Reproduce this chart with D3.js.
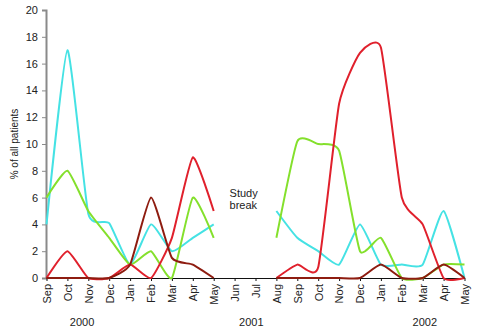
<!DOCTYPE html>
<html>
<head>
<meta charset="utf-8">
<script src="https://cdn.jsdelivr.net/npm/d3@7"></script>
<style>
    body { margin: 0; background: #fff; }
    text { font-family: "Liberation Sans", Arial, sans-serif; fill: #222; }
</style>
</head>
<body>
<div id="chart"></div>
<script>

// month categories (Sep 2000 .. May 2002, Jun/Jul 2001 = study break)
const months = ["Sep", "Oct", "Nov", "Dec", "Jan", "Feb", "Mar", "Apr", "May", "Jun", "Jul",
    "Aug", "Sep", "Oct", "Nov", "Dec", "Jan", "Feb", "Mar", "Apr", "May"];

// year labels and the month index they sit under
const years = ["2000", "2001", "2002"];
const yearPos = [1.7, 9.8, 18.1];

const yTicks = [0, 2, 4, 6, 8, 10, 12, 14, 16, 18, 20];

// series values, % of all patients (null = no data)
const cyanValues = [4, 17, 4.8, 4.1, 1, 4, 2, 3, 4, null, null, 5, 3, 2, 1, 4, 1, 1, 1, 5, 0];
const greenValues = [6, 8, 5, 3, 1, 2, 0, 6, 3, null, null, 3, 10.2, 10, 9.5, 2, 3, 0, 0, 1, 1];
const redValues = [0, 2, 0, 0, 1, 0, 3, 9, 5, null, null, 0, 1, 0.8, 13, 16.8, 17.2, 6, 4, 0, 0];
const darkRedValues = [0, 0, 0, 0, 1, 6, 1.5, 1, 0, null, null, 0, 0, 0, 0, 0, 1, 0, 0, 1, 0];

const seriesColors = ["#45e2e4", "#84e02c", "#e0202c", "#8e1c10"];
const series = [cyanValues, greenValues, redValues, darkRedValues];

let margin = {top: 10, right: 16, bottom: 57, left: 46};
let width = 480 - margin.left - margin.right;
let height = 335 - margin.top - margin.bottom;

let svg = d3.select("#chart").append("svg")
    .attr("width", 480)
    .attr("height", 335)
    .append("g")
    .attr("transform", "translate(" + margin.left + "," + margin.top + ")");

// scales
let x = d3.scalePoint().domain(d3.range(months.length)).range([0.5, width + 0.5]);
let y = d3.scaleLinear().domain([0, 20]).range([height, 0]);

// y axis
let yAxis = svg.append("g")
    .attr("class", "axis axis--y")
    .call(d3.axisLeft(y).tickValues(yTicks).tickSize(4).tickPadding(4));
yAxis.select(".domain").attr("stroke", "#8a8a8a").attr("stroke-width", 2);
yAxis.selectAll(".tick line").attr("stroke", "#8a8a8a");
yAxis.selectAll("text").attr("font-size", 11).attr("fill", "#222")
    .attr("font-family", "Liberation Sans, Arial, sans-serif");

// x axis
let xAxis = svg.append("g")
    .attr("class", "axis axis--x")
    .attr("transform", "translate(0," + height + ")")
    .call(d3.axisBottom(x).tickFormat(i => months[i]).tickSize(3).tickSizeOuter(0));
xAxis.select(".domain").attr("stroke", "#111").attr("stroke-width", 1.2);
xAxis.selectAll(".tick line").attr("stroke", "#111");
xAxis.selectAll("text")
    .attr("font-size", 11)
    .attr("fill", "#222")
    .attr("font-family", "Liberation Sans, Arial, sans-serif")
    .attr("text-anchor", "end")
    .attr("dy", "0.35em")
    .attr("transform", "translate(0,3) rotate(-90)")
    .attr("x", -3)
    .attr("y", 0);

// year labels
svg.selectAll(".year")
    .data(years)
    .enter()
    .append("text")
    .attr("class", "year")
    .attr("x", (d, i) => x(0) + yearPos[i] * x.step())
    .attr("y", height + 48)
    .attr("text-anchor", "middle")
    .attr("font-size", 11)
    .text(d => d);

// y label
svg.append("text")
    .attr("transform", "translate(" + (-28) + "," + (height / 2) + ") rotate(-90)")
    .attr("text-anchor", "middle")
    .attr("font-size", 10)
    .text("% of all patients");

// study break note
let note = svg.append("text")
    .attr("x", x(9) - 5)
    .attr("y", y(6) - 1)
    .attr("font-size", 11);
note.append("tspan").text("Study");
note.append("tspan").attr("x", x(9) - 5).attr("dy", 12).text("break");

// lines (smoothed, like the spreadsheet original)
let line = d3.line()
    .defined(d => d !== null)
    .curve(d3.curveCardinal.tension(0.5))
    .x((d, i) => x(i))
    .y(d => y(d));

svg.append("g").attr("class", "pathGroup")
    .selectAll("path")
    .data(series)
    .enter()
    .append("path")
    .attr("d", line)
    .attr("fill", "none")
    .attr("stroke", (d, i) => seriesColors[i])
    .attr("stroke-width", 2);

</script>
</body>
</html>
